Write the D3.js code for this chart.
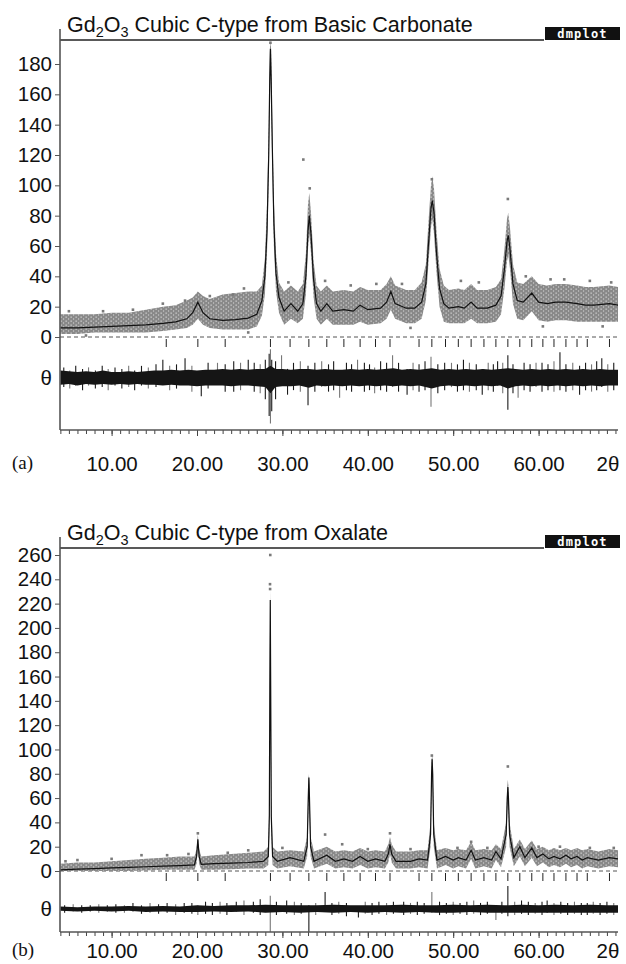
<!DOCTYPE html>
<html>
<head>
<meta charset="utf-8">
<script src="https://cdn.jsdelivr.net/npm/d3@7"></script>
<style>
  body { margin: 0; background: #fff; }
  svg { display: block; font-family: "Liberation Sans", Arial, sans-serif; }
</style>
</head>
<body>
<svg id="chart" width="626" height="964"></svg>
<script>
// reflection positions (2theta) of the cubic C-type cell, same for both runs
const reflections = [16.4, 20.1, 23.3, 28.6, 30.9, 33.1, 35.2, 37.2, 39.1, 40.9, 42.6, 46.0, 47.5,
  49.1, 50.6, 52.1, 53.6, 55.0, 56.4, 57.8, 59.2, 60.5, 61.8, 63.2, 64.5, 65.7, 68.3];

const xTickLabels = [10, 20, 30, 40, 50, 60];
const yTicksA = [0, 20, 40, 60, 80, 100, 120, 140, 160, 180];
const yTicksB = [0, 20, 40, 60, 80, 100, 120, 140, 160, 180, 200, 220, 240, 260];

// (a) from basic carbonate: [2theta, calc, obs low, obs high]
const profileA = [
  [4.0, 6, 2, 15], [6.0, 6, 2, 15], [8.0, 6.5, 3, 15], [10.0, 7, 3, 16], [12.0, 7.5, 3, 16],
  [14.0, 8, 3, 18], [16.0, 9, 4, 20], [17.5, 10, 5, 21], [18.8, 12, 6, 24], [19.5, 16, 8, 26],
  [20.1, 23, 12, 30], [20.7, 16, 8, 27], [21.5, 12, 6, 25], [23.0, 11, 5, 28], [24.5, 11.5, 5, 29],
  [26.0, 12.5, 5, 30], [27.0, 15, 7, 30], [27.6, 24, 14, 34], [27.95, 40, 28, 52], [28.2, 70, 55, 88],
  [28.4, 120, 105, 138], [28.52, 170, 158, 188], [28.6, 190, 178, 196], [28.68, 172, 158, 190],
  [28.82, 125, 110, 140], [29.0, 75, 60, 90], [29.25, 42, 30, 55], [29.6, 26, 16, 36],
  [30.2, 17, 8, 30], [31.0, 22, 12, 34], [31.8, 17, 9, 30], [32.4, 22, 12, 35], [32.75, 40, 28, 55],
  [33.0, 70, 58, 88], [33.15, 80, 68, 95], [33.35, 68, 55, 82], [33.65, 38, 26, 50], [34.0, 22, 12, 34],
  [34.5, 17, 8, 30], [35.2, 22, 12, 34], [35.9, 17, 8, 30], [37.2, 18, 8, 31], [38.3, 17, 8, 30],
  [39.1, 21, 10, 33], [40.0, 18, 8, 31], [41.5, 19, 9, 31], [42.2, 23, 12, 35], [42.7, 30, 18, 40],
  [43.2, 22, 12, 34], [44.5, 19, 9, 31], [45.5, 19, 9, 31], [46.3, 23, 12, 36], [46.8, 35, 24, 48],
  [47.15, 65, 52, 80], [47.4, 85, 72, 100], [47.55, 90, 78, 106], [47.75, 82, 68, 98], [48.05, 55, 42, 70],
  [48.4, 32, 20, 45], [48.9, 22, 10, 34], [49.5, 19, 9, 31], [50.6, 20, 9, 32], [51.3, 19, 9, 31],
  [52.1, 23, 12, 35], [52.8, 19, 9, 31], [54.0, 19, 9, 31], [55.0, 21, 10, 33], [55.6, 27, 15, 38],
  [56.0, 45, 32, 58], [56.3, 63, 50, 78], [56.45, 67, 54, 82], [56.65, 58, 45, 72], [57.0, 35, 22, 48],
  [57.5, 24, 12, 36], [58.2, 23, 11, 35], [59.2, 29, 17, 40], [60.0, 23, 11, 35], [61.0, 22, 10, 34],
  [62.0, 23, 11, 35], [63.2, 23, 11, 35], [64.5, 22, 10, 34], [65.5, 21, 10, 33], [66.5, 21, 10, 33],
  [68.3, 22, 10, 34], [69.3, 21, 10, 33]
];
// observed points lying outside the dense band (a)
const strayObsA = [[16.0, 22], [18.6, 24], [24.2, 28], [28.6, 194], [32.45, 117], [33.2, 98],
  [47.5, 104], [56.4, 91], [50.9, 37], [61.4, 38], [5.0, 17], [9.0, 17], [12.5, 18], [21.5, 27],
  [25.5, 32], [30.7, 36], [35.0, 37], [38.0, 34], [41.0, 35], [44.0, 35], [53.0, 36], [58.5, 40],
  [63.0, 38], [66.0, 37], [68.5, 36], [7.0, 1], [26.0, 3], [45.0, 6], [60.5, 7], [67.5, 7]];
// difference curve (a): [2theta, low, high]
const diffBandA = [
  [4.0, -4.5, 5], [5.0, -4, 4.5], [6.0, -5, 4], [7.0, -4, 4.5], [8.0, -4.5, 4], [9.0, -4, 5], [10.0, -4.5, 4],
  [11.0, -4, 4], [12.0, -4.5, 4.5], [13.0, -4, 4], [14.0, -4.5, 4.5], [15.0, -4.5, 5], [16.0, -5, 5],
  [17.0, -4.5, 5.5], [18.0, -5, 5], [19.0, -5, 5.5], [20.0, -5.5, 5], [21.0, -5, 5.5], [22.0, -5, 5.5],
  [23.0, -5, 6], [24.0, -5.5, 5.5], [25.0, -5, 6], [26.0, -5, 5.5], [27.0, -5.5, 6], [28.0, -6, 6],
  [28.6, -10, 8], [29.2, -6, 6], [30.0, -5.5, 6], [31.0, -5.5, 5.5], [32.0, -5, 6], [33.1, -6.5, 6],
  [34.0, -5, 5.5], [35.0, -5.5, 6], [36.0, -5, 5.5], [37.0, -5.5, 5.5], [38.0, -5, 6], [39.0, -5.5, 5.5],
  [40.0, -5, 6], [41.0, -5.5, 5.5], [42.0, -5, 6], [43.0, -5.5, 6.5], [44.0, -5, 5.5], [45.0, -5.5, 6],
  [46.0, -5, 5.5], [47.5, -7, 6.5], [48.5, -5.5, 5.5], [49.5, -5, 6], [50.5, -5.5, 5.5], [51.5, -5, 6],
  [52.5, -5.5, 5.5], [53.5, -5, 6], [54.5, -5.5, 5.5], [55.5, -5, 6], [56.4, -7, 6.5], [57.3, -5.5, 6],
  [58.2, -5, 5.5], [59.2, -5.5, 6], [60.2, -5, 5.5], [61.2, -5.5, 6], [62.2, -5, 5.5], [63.2, -5.5, 6],
  [64.2, -5, 5.5], [65.2, -5.5, 6], [66.2, -5, 5.5], [67.2, -5.5, 6], [68.2, -5, 5.5], [69.3, -5, 5.5]
];
const diffSpikesA = [[4.4, -6, 7], [5.1, -7, 5], [5.8, -5, 8], [6.6, -8, 6], [7.3, -5, 7], [8.1, -7, 5],
  [8.9, -6, 8], [9.6, -8, 6], [10.4, -5, 7], [11.2, -7, 6], [12.0, -6, 8], [12.7, -8, 5], [13.5, -5, 8],
  [14.3, -7, 7], [15.2, -6, 9], [16.0, -3, 12], [16.8, -8, 8], [17.6, -7, 9], [18.6, -2, 13], [19.4, -9, 8],
  [20.5, -12, 2], [21.3, -7, 10], [22.4, -3, 10], [23.3, -9, 9], [24.3, -9, 11], [25.1, -8, 10],
  [26.0, -4, 12], [26.7, -9, 10], [27.4, -10, 9], [28.0, -14, 12], [28.45, -25, 16], [28.6, -30, 19],
  [28.75, -22, 12], [29.2, -14, 11], [29.9, -4, 15], [30.6, -11, 6], [31.3, -8, 10], [32.1, -9, 11],
  [33.0, -18, 8], [33.8, -9, 10], [34.6, -6, 11], [35.4, -9, 9], [36.0, -8, 11], [36.7, -13, 5],
  [37.5, -8, 10], [38.1, -9, 9], [38.8, -5, 12], [39.6, -9, 10], [40.2, -8, 9], [40.8, -10, 7],
  [41.5, -8, 11], [42.2, -9, 10], [42.9, -6, 15], [43.6, -9, 10], [44.6, -11, 6], [45.3, -8, 10],
  [46.0, -9, 9], [46.7, -8, 11], [47.4, -19, 14], [48.2, -10, 9], [49.0, -8, 10], [49.8, -6, 10],
  [50.5, -9, 9], [51.2, -8, 12], [51.9, -9, 10], [52.7, -8, 9], [53.4, -11, 6], [54.1, -8, 10],
  [54.7, -9, 9], [55.2, -5, 11], [55.8, -10, 10], [56.4, -21, 15], [57.0, -10, 9], [57.6, -13, 5],
  [58.3, -8, 10], [59.0, -9, 9], [59.7, -6, 10], [60.4, -9, 10], [61.1, -8, 9], [61.8, -9, 11],
  [62.5, -8, 17], [63.2, -9, 9], [64.0, -8, 10], [64.8, -11, 8], [65.5, -8, 10], [66.2, -9, 9],
  [66.8, -8, 11], [67.4, -6, 13], [68.1, -9, 9], [68.8, -8, 10]];

// (b) from oxalate: [2theta, calc, obs low, obs high]
const profileB = [
  [4.0, 1, 0, 6], [6.0, 1.5, 0, 7], [8.0, 2, 0, 7], [10.0, 2.5, 0, 8], [12.0, 3, 0, 9], [14.0, 3.5, 0.5, 10],
  [16.0, 4, 1, 11], [18.0, 4.5, 1, 12], [19.7, 5, 1, 12], [19.95, 12, 6, 18], [20.1, 26, 18, 30],
  [20.25, 12, 6, 18], [20.5, 5.5, 1, 12], [22.0, 6, 1, 13], [24.0, 6.5, 1.5, 14], [26.0, 7, 2, 15],
  [27.8, 8, 2, 16], [28.35, 12, 5, 20], [28.47, 45, 30, 60], [28.53, 150, 120, 180], [28.58, 223, 200, 232],
  [28.63, 150, 120, 180], [28.7, 45, 30, 60], [28.85, 12, 5, 20], [29.4, 8, 2, 16], [30.9, 11, 4, 17],
  [32.5, 8, 2, 16], [32.9, 20, 12, 28], [33.03, 60, 45, 72], [33.1, 77, 62, 80], [33.17, 60, 45, 72],
  [33.3, 20, 12, 28], [33.7, 8, 2, 16], [35.2, 13, 6, 20], [36.2, 8, 2, 16], [37.2, 10, 3, 17],
  [38.2, 8, 2, 16], [39.1, 12, 5, 19], [40.0, 8, 2, 16], [40.9, 10, 3, 17], [42.0, 8, 2, 16],
  [42.4, 14, 7, 22], [42.6, 22, 14, 28], [42.8, 14, 7, 22], [43.3, 8, 2, 16], [45.0, 8, 2, 16],
  [46.0, 10, 3, 17], [47.0, 9, 2, 17], [47.35, 30, 20, 40], [47.47, 80, 65, 92], [47.53, 92, 80, 95],
  [47.6, 80, 65, 92], [47.72, 30, 20, 40], [48.1, 9, 2, 17], [49.1, 12, 5, 19], [50.0, 9, 2, 17],
  [50.6, 11, 4, 18], [51.5, 9, 2, 17], [52.1, 17, 10, 24], [52.6, 9, 2, 17], [53.6, 11, 4, 18],
  [54.5, 9, 2, 17], [55.0, 16, 9, 22], [55.6, 10, 3, 18], [56.2, 30, 20, 40], [56.33, 60, 48, 70],
  [56.4, 69, 56, 75], [56.47, 60, 48, 70], [56.6, 30, 20, 40], [57.1, 11, 4, 18], [57.8, 20, 12, 26],
  [58.4, 11, 4, 18], [59.2, 19, 11, 25], [59.8, 11, 4, 18], [60.5, 14, 7, 20], [61.2, 10, 3, 17],
  [61.8, 12, 5, 19], [62.5, 10, 3, 17], [63.2, 13, 6, 19], [63.8, 10, 3, 17], [64.5, 12, 5, 19],
  [65.1, 9, 2, 17], [65.7, 11, 4, 18], [67.0, 9, 2, 16], [68.3, 11, 4, 18], [69.3, 10, 3, 17]
];
const strayObsB = [[28.58, 260], [28.55, 236], [28.56, 232], [20.1, 31], [35.0, 30], [42.6, 31],
  [47.5, 95], [56.4, 86], [52.1, 24], [4.6, 8], [13.5, 13], [23.6, 15], [37.0, 22], [62.5, 20],
  [6.0, 9], [10.0, 10], [16.5, 13], [19.0, 14], [26.0, 17], [30.0, 19], [40.0, 18], [45.0, 18],
  [50.5, 19], [54.0, 19], [60.0, 20], [66.0, 19], [68.8, 19]];
const diffBandB = [
  [4.0, -1.5, 2], [6.0, -2, 1.5], [8.0, -1.5, 2], [10.0, -2, 2], [12.0, -1.5, 2.5], [14.0, -2.5, 2],
  [16.0, -2, 2.5], [18.0, -2.5, 2], [20.0, -2.5, 3], [22.0, -2, 2.5], [24.0, -2.5, 3], [26.0, -2, 3],
  [28.0, -3, 3.5], [30.0, -2.5, 3], [32.0, -3, 3], [34.0, -2.5, 3], [36.0, -3, 3.5], [38.0, -2.5, 3],
  [40.0, -3, 3], [42.0, -2.5, 3], [44.0, -3, 3.5], [46.0, -2.5, 3], [48.0, -3, 3], [50.0, -3, 3.5],
  [52.0, -2.5, 3], [54.0, -3, 3.5], [56.0, -3, 3], [58.0, -3, 3.5], [60.0, -3, 3], [62.0, -3, 3.5],
  [64.0, -3, 3], [66.0, -3, 3.5], [68.0, -3, 3], [69.3, -3, 3]
];
const diffSpikesB = [[4.5, -3, 3], [5.5, -2, 4], [6.5, -3, 3], [7.5, -2, 3], [8.5, -3, 4], [9.5, -2, 3],
  [10.5, -3, 4], [11.5, -3, 3], [12.5, -2, 5], [13.5, -4, 3], [14.5, -3, 5], [15.5, -4, 4], [16.5, -3, 5],
  [17.5, -5, 4], [18.5, -3, 5], [19.4, -4, 5], [20.1, -5, 3], [21.0, -4, 6], [21.8, -5, 5], [22.7, -4, 6],
  [23.5, -5, 5], [24.6, -2, 6], [25.5, -5, 7], [26.6, -3, 6], [27.4, -5, 8], [28.58, -20, 11],
  [29.3, -5, 6], [30.5, -4, 7], [31.4, -5, 6], [32.2, -4, 5], [33.1, -22, 3], [33.9, -5, 5], [35.0, -2, 14],
  [35.8, -5, 5], [36.6, -4, 6], [37.5, -6, 5], [38.9, -7, 2], [39.7, -4, 6], [40.5, -5, 5], [41.3, -4, 6],
  [42.2, -5, 5], [43.0, -4, 6], [44.2, -5, 6], [45.0, -4, 5], [45.8, -5, 6], [46.6, -4, 5], [47.5, -3, 14],
  [48.4, -5, 6], [49.2, -4, 5], [50.0, -5, 6], [50.8, -4, 5], [51.6, -5, 6], [52.4, -4, 7], [53.2, -5, 5],
  [54.0, -4, 6], [55.0, -9, 2], [55.7, -4, 6], [56.4, -6, 19], [57.2, -5, 6], [58.0, -4, 7], [58.8, -5, 6],
  [59.6, -4, 5], [60.4, -5, 6], [61.0, -3, 7], [61.8, -5, 5], [62.6, -4, 6], [63.4, -5, 5], [64.2, -4, 6],
  [65.0, -5, 5], [65.7, -5, 5], [66.4, -4, 6], [67.2, -5, 5], [68.0, -4, 6], [68.8, -5, 5]];

// layout of the two stacked panels (pixels)
const panels = [
  { title: "Basic Carbonate", letter: "(a)", profile: profileA, stray: strayObsA,
    diffBand: diffBandA, diffSpikes: diffSpikesA, yTicks: yTicksA,
    top: 40, axisTop: 29, bottom: 430, zeroY: 337, topTick: 180, topTickY: 64, thetaY: 378, labelPad: 20 },
  { title: "Oxalate", letter: "(b)", profile: profileB, stray: strayObsB,
    diffBand: diffBandB, diffSpikes: diffSpikesB, yTicks: yTicksB,
    top: 548, axisTop: 537, bottom: 932, zeroY: 871, topTick: 260, topTickY: 555, thetaY: 909, labelPad: 5 }
];
const left = 60, right = 618;
const labelSize = 20.5;

const svg = d3.select("#chart");
svg.append("rect").attr("width", 626).attr("height", 964).attr("fill", "#fff");

// speckled fill for the observed points
const defs = svg.append("defs");
const pat = defs.append("pattern").attr("id", "speckle").attr("patternUnits", "userSpaceOnUse")
  .attr("width", 5).attr("height", 4);
pat.append("rect").attr("width", 5).attr("height", 4).attr("fill", "#898989");
pat.append("rect").attr("x", 0.5).attr("y", 0.5).attr("width", 1.3).attr("height", 1.3).attr("fill", "#d0d0d0");
pat.append("rect").attr("x", 3).attr("y", 2.5).attr("width", 1.1).attr("height", 1).attr("fill", "#dcdcdc");

const x = d3.scaleLinear().domain([10, 60]).range([111.6, 538.6]);

panels.forEach((p, i) => {
  const y = d3.scaleLinear().domain([0, p.topTick]).range([p.zeroY, p.topTickY]);
  const off = y.invert(p.thetaY);
  const g = svg.append("g");

  defs.append("clipPath").attr("id", "clip" + i).append("rect")
    .attr("x", left).attr("y", p.top).attr("width", right - left).attr("height", p.bottom - p.top);
  const plot = g.append("g").attr("clip-path", `url(#clip${i})`);

  // title with subscripts
  const t = g.append("text").attr("x", 67).attr("y", p.top - 8).attr("font-size", 21.5).attr("fill", "#111");
  t.append("tspan").text("Gd");
  t.append("tspan").attr("font-size", 14.5).attr("dy", 5).text("2");
  t.append("tspan").attr("dy", -5).text("O");
  t.append("tspan").attr("font-size", 14.5).attr("dy", 5).text("3");
  t.append("tspan").attr("dy", -5).text(" Cubic C-type from " + p.title);

  // top rule and dmplot badge
  g.append("line").attr("x1", left).attr("x2", 544).attr("y1", p.top).attr("y2", p.top)
    .attr("stroke", "#222").attr("stroke-width", 1.3);
  g.append("rect").attr("x", 545).attr("y", p.top - 13).attr("width", 75).attr("height", 13).attr("fill", "#111");
  g.append("text").attr("x", 582.5).attr("y", p.top - 2.5).attr("text-anchor", "middle")
    .attr("font-family", "DejaVu Sans Mono, monospace").attr("font-weight", "bold")
    .attr("font-size", 12).attr("letter-spacing", 1.2).attr("fill", "#fff").text("dmplot");

  // zero line
  plot.append("line").attr("x1", left).attr("x2", right).attr("y1", y(0)).attr("y2", y(0))
    .attr("stroke", "#555").attr("stroke-dasharray", "4,3");

  // observed points
  plot.append("path").datum(p.profile)
    .attr("d", d3.area().x(d => x(d[0])).y0(d => y(d[2])).y1(d => y(d[3])))
    .attr("fill", "url(#speckle)");
  plot.selectAll(".stray").data(p.stray).join("rect")
    .attr("x", d => x(d[0]) - 1.3).attr("y", d => y(d[1]) - 1.3)
    .attr("width", 2.6).attr("height", 2.6).attr("fill", "#7a7a7a");

  // calculated profile
  plot.append("path").datum(p.profile)
    .attr("d", d3.line().x(d => x(d[0])).y(d => y(d[1])))
    .attr("fill", "none").attr("stroke", "#111").attr("stroke-width", 1.2);

  // reflection markers
  plot.selectAll(".refl").data(reflections).join("line")
    .attr("x1", d => x(d)).attr("x2", d => x(d))
    .attr("y1", y(0) + 2).attr("y2", y(0) + 10)
    .attr("stroke", "#222").attr("stroke-width", 1);

  // difference curve
  plot.selectAll(".spike").data(p.diffSpikes).join("line")
    .attr("x1", d => x(d[0])).attr("x2", d => x(d[0]))
    .attr("y1", d => y(off + d[1])).attr("y2", d => y(off + d[2]))
    .attr("stroke", (d, k) => k % 3 === 1 ? "#777" : "#1a1a1a").attr("stroke-width", 1.1);
  plot.append("path").datum(p.diffBand)
    .attr("d", d3.area().x(d => x(d[0])).y0(d => y(off + d[1])).y1(d => y(off + d[2])))
    .attr("fill", "#151515");

  // y axis
  const ya = g.append("g").attr("transform", `translate(${left},0)`)
    .call(d3.axisLeft(y).tickValues(p.yTicks).tickSize(5).tickPadding(3));
  ya.select(".domain").remove();
  ya.selectAll("line").attr("stroke", "#555");
  ya.selectAll("text").attr("font-size", labelSize).attr("font-family", "Liberation Sans, Arial, sans-serif").attr("fill", "#111");
  g.append("line").attr("x1", left).attr("x2", left).attr("y1", p.axisTop).attr("y2", p.bottom)
    .attr("stroke", "#555").attr("stroke-width", 1.6);
  g.append("text").attr("x", 52).attr("y", p.thetaY).attr("dy", "0.35em").attr("text-anchor", "end")
    .attr("font-size", labelSize).attr("fill", "#111").text("\u03b8");

  // x axis
  const minor = g.append("g").attr("transform", `translate(0,${p.bottom})`)
    .call(d3.axisBottom(x).tickValues(d3.range(4, 70)).tickSize(4).tickFormat(""));
  minor.select(".domain").remove();
  minor.selectAll("line").attr("stroke", "#444");
  const xa = g.append("g").attr("transform", `translate(0,${p.bottom})`)
    .call(d3.axisBottom(x).tickValues(xTickLabels).tickSize(6).tickPadding(p.labelPad).tickFormat(d3.format(".2f")));
  xa.select(".domain").remove();
  xa.selectAll("line").attr("stroke", "#444");
  xa.selectAll("text").attr("font-size", labelSize).attr("font-family", "Liberation Sans, Arial, sans-serif").attr("fill", "#111");
  g.append("line").attr("x1", left).attr("x2", right).attr("y1", p.bottom).attr("y2", p.bottom)
    .attr("stroke", "#555").attr("stroke-width", 1.6);
  g.append("text").attr("x", 608).attr("y", p.bottom + 6 + p.labelPad).attr("dy", "0.71em").attr("text-anchor", "middle")
    .attr("font-size", labelSize).attr("fill", "#111").text("2\u03b8");

  // panel letter
  g.append("text").attr("x", 12).attr("y", p.bottom + 6 + p.labelPad).attr("dy", "0.71em")
    .attr("font-family", "Liberation Serif, Times New Roman, serif").attr("font-size", 19)
    .attr("fill", "#111").text(p.letter);
});
</script>
</body>
</html>
